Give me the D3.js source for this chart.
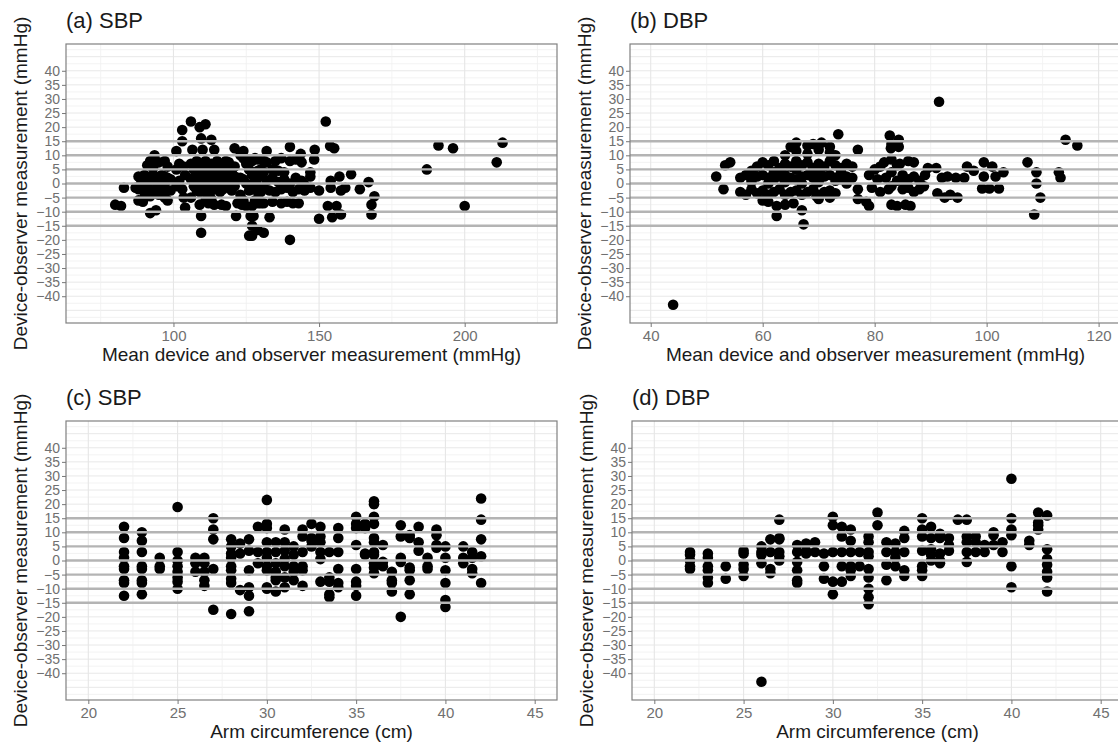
<!DOCTYPE html>
<html>
<head>
<meta charset="utf-8">
<script src="https://cdn.jsdelivr.net/npm/d3@7/dist/d3.min.js"></script>
<style>
  body { margin: 0; background: #fff; }
  svg { display: block; font-family: "Liberation Sans", Arial, sans-serif; }
</style>
</head>
<body>
<svg id="chart" width="1118" height="745"></svg>
<script>
// (a) SBP: [mean device/observer, difference]
const sbpMeanDiff = [
  [80,-7.5],[82,-8],[83,-1.5],[87,-1.5],[88,-6],[89.5,-6.5],[92,-10.5],[94,-9.5],[98,-6],
  [88,2.5],[89,2],[90,3],[91,2.5],[92,2],[93,3],[94,2.5],[95,2],[96,3],[97,2.5],[98,2],[99,1.5],
  [89,0.5],[91,0],[93,1],[95,0.5],[97,0],
  [88,-2],[90,-3],[91,-1.5],[92,-2.5],[93,-3],[94,-2],[95,-1],[96,-3],[97,-2],[99,-2.5],
  [90,-5],[92,-4.5],[95,-4],[97,-5],
  [91,6.5],[92,8],[93,5.5],[95,7.5],[97,8],[98,6],[93.5,10],
  [101,11.5],[103,19],[106,22],[109,20],[111,21],[103,15],[101,5],[102,7],[103.5,6],[101,-1],
  [103,-2],[104,-8.5],[103.5,-5],[102,1],[104,3],
  [106.5,12],[109.5,16],[113,15.5],[110,12],[114,12],
  [106,7],[107,5],[108,3],[109,1],[110,-1],[111,-3],[112,2],[113,4],[114,6],[115,8],[116,0],
  [117,-2],[118,3],[119,5],[120,1],[121,-1],[107,-1],[108,-2.5],[109,6],[110,3.5],[111,8],
  [112,-0.5],[113,1],[114,-2],[115,3],[116,5.5],[117,2],[118,-0.5],[119,7.5],[120,4],[121,2.5],
  [106,1.5],[108,8],[110,0],[112,5],[114,0.5],[116,-3],[118,8],[120,-2.5],[122,2],[111,5],
  [113,-2.5],[115,-1],[117,7],[119,0],[121,6],[107,2],[109,-3],[111,1],[113,7],[115,4.5],
  [117,-0.5],[119,2],
  [109.5,-11.5],[109.5,-17.5],[109,-7.5],[114,-7.5],[116.5,-7.5],[111,-6],[112,-7],[118,-8],
  [106,-5],[113,-5.5],
  [121,12.5],[124,11.5],[121.5,-11.5],[123.5,-7.5],[126.5,-11.5],[127,-15],[126,-18.5],
  [129,-16.5],[126,-2.5],[125,8],
  [123,10],[124,9],[125,7],[126,5],[127,3],[128,1],[129,-1],[130,-3],[123,-4],[124,-6],
  [125,-8],[127,-8],[128,-6],[130,-7],[129,2],[130,5],[131,8],[123,2],[125,0],[127,-1.5],
  [122,-7],[124,1.5],[126,8],[128,9],
  [127,8],[129,8.5],[132,7.5],[135,8],[137,9],[140,8],[142,8.5],[144,7.5],
  [129,4.5],[131,4],[134,5],[136,4.5],[138,4],
  [132,1],[134,2],[136,0.5],[138,1.5],[140,0],[142,2],[144,1],[145,-0.5],
  [127,-2],[129,-3],[131,-1.5],[133,-2.5],[135,-3],[137,-2],[139,-1.5],[141,-3],[143,-2],
  [145,-2.5],[147,-1.5],
  [140,13],[132,11.5],[148.5,12],[153.8,13.3],[155.2,12.5],[148.3,8.5],[143.7,10.5],
  [152.3,22],[147,2.5],[147,4],[150,-2.5],
  [154,1],[157,2.5],[161,3.3],[154,-1.5],[159,-1.5],[164,-2],[157.5,-2.5],[167,0.5],
  [169,-4.5],[168,-7.5],[168,-11],[153,-8],[156,-8],[150,-12.5],[154.5,-12],[157.5,-11],
  [129,-7],[131,-7],[134,-6.5],[137,-7],[139,-6.5],[141,-7],[143,-7],
  [133,-12],[127.5,-11.5],[127,-18.5],[131,-17.5],[140,-20],
  [187,5],[191,13.5],[196,12.5],[200,-8],[211,7.5],[213,14.5]
];

// (b) DBP: [mean device/observer, difference]
const dbpMeanDiff = [
  [44,-43],[51.7,2.5],[53,-2],[53.3,6.5],[54.2,7.5],
  [56,2],[57,3],[58,1.5],[59,2.5],[60,3],[61,2],[62,1.5],[63,2.5],[64,3],[65,2],[66,1.5],
  [67,2.5],[68,3],[69,2],[70,1.5],[71,2.5],[72,3],[73,2],[74,1.5],[75,2.5],[76,2],
  [58,0.5],[61,0],[64,0.5],[67,0],[70,0.5],[73,1],[75,0],
  [56,-3],[57,-4],[58,-2],[59,-3.5],[60,-2.5],[61,-4],[62,-3],[63,-2],[64,-4],[65,-3],
  [66,-2.5],[67,-4],[68,-3],[69,-2],[70,-4],[71,-3],[72,-2.5],[73,-3.5],
  [59,6],[60,7.5],[61,6.5],[62,8],[63,5.5],[64,7],[65,6],[66,8],[67,6.5],[68,7.5],[69,5.5],
  [70,7],[71,6],[72,8],[73,6.5],[74,5.5],[75,7],[76,6],
  [58,4.5],[62,4],[66,5],[70,4.5],[74,4],
  [60,-6],[62.5,-8],[62.5,-11.5],[65.5,-7],[67,-9.5],[67.3,-14.5],[61,-6.5],[64,-7.5],
  [70,-5.5],[72,-5],[69.6,-4.5],
  [65,13],[66,14.5],[68,13.5],[69,14],[70.5,14.5],[72,13],[73.5,17.5],
  [64,10],[66,11.5],[68,10.5],[70,12],[72,11],[73,10],
  [77,12],[77,-2],[77,-5.5],[78.5,-6.5],[79,-8],
  [79,3],[80,5],[80.5,1.5],[81,6],[82,2],[82.5,-2],[83,4],[84,1],[79.5,-1.5],[81,-3],
  [83,-1],[84,6.5],
  [82.7,17],[83,14],[84.3,15.5],[82.9,12.5],[84.3,13],
  [81.7,7.5],[83,8.5],[84.5,7],[86,8],[87,7.5],
  [85,3],[86,1.5],[87,2.5],[88,1],[89,3],[85.5,0.5],
  [85,-2],[86,-1.5],[87,-3],[88,-2],[88.8,-1],
  [83,-7.5],[84,-8],[85.5,-7.5],[86.4,-8],
  [89.5,5.5],[91,5.5],[92,2],[93,2.5],[94.5,2],[96,2],[91.2,-3.5],[92.5,-5],[93.5,-4],
  [94.8,-5],[91.5,29],
  [96.5,6],[97.7,4.5],[99.5,7.5],[101,6],[103,4],[99.5,2.5],[101.6,2.5],[99.2,-1.8],
  [100.5,-1.8],[102.2,-1.8],
  [107.3,7.5],[108.9,4],[108.9,0],[109.6,-5],[108.5,-11],[112.9,4],[113.2,2],
  [114.1,15.5],[116.2,13.5]
];

// (c) SBP and (d) DBP against arm circumference: one list of differences per arm size
const sbpArm = [22,23,24,25,26,26.5,27,28,28.5,29,29.5,30,30.5,31,31.5,32,32.5,33,33.5,34,35,35.5,36,36.5,37,37.5,38,38.5,39,39.5,40,41,41.5,42];
const sbpArmDiffs = [
  [12,8,3,1,-2,-3,-7,-8,-12.5],
  [10,7,3,-2,-3,-7,-8,-12],
  [1,-2,-3],
  [19,3,0,-2,-4,-6,-7.5,-10],
  [1,-1,-4],
  [1,-1,-4,-7,-9],
  [15,11,7.5,-3,-17.5],
  [7.5,5,2.5,1,-2,-3.5,-6.5,-8,-19],
  [6,2.5,-10.5],
  [7.5,3.5,-3.5,-9.5,-12.5,-18],
  [12,3,-1],
  [21.5,13,11.5,6.5,3,1,-2,-3.5,-9.5,-10],
  [6.5,3,-1,-4,-6,-7,-11],
  [11,6.5,3.5,0.5,-2,-6,-9.5],
  [5,2,-2,-4,-7],
  [11,8.5,3,-2,-3.5,-9],
  [13,8,7,5],
  [12,8.5,6.5,3,0.5,-7.5],
  [3,-6,-7.5,-12,-13],
  [11.5,8,3,-3,-8,-9.5],
  [15.5,13,11.5,5.5,-3,-7.5,-9,-12.5],
  [13,11.5,2.5,2],
  [21,20,15.5,13,8,6.5,3,2,-1,-2.5,-4.5],
  [5.5,-0.5,-2],
  [-4,-7,-8,-11],
  [12.5,8.5,1,-0.5,-20],
  [9,8,-2.5,-3.5,-7,-12],
  [12,6.5,3.5],
  [1,-2,-3],
  [11,9,5.5,4.5],
  [5,1,-3.5,-8,-14,-16.5],
  [5,1,-1],
  [3,1,-3,-4.5],
  [22,14.5,7.5,1.5,-8]
];

const dbpArm = [22,23,24,25,26,26.5,27,28,28.5,29,29.5,30,30.5,31,31.5,32,32.5,33,33.5,34,35,35.5,36,36.5,37,37.5,38,38.5,39,39.5,40,41,41.5,42];
const dbpArmDiffs = [
  [3,2,0,-2,-3],
  [2.5,1,-2,-3.5,-6,-8],
  [-2,-6.5],
  [3.5,2.5,-1.5,-3,-5.5],
  [5,3,2,-1,-43],
  [7.5,3,-3,-4.5],
  [14.5,8,7.5,3,1.5,0],
  [5.5,3,-0.5,-3.5,-7,-8],
  [6,3.5,2.5],
  [6.5,3],
  [2.5,-2,-6.5],
  [15.5,12.5,3,-7.5,-12],
  [12,8.5,3,-2,-7.5],
  [11,7,3,-2,-3.5,-5.5],
  [3,-2],
  [8.5,6.5,3,1.5,-3,-6,-10,-13,-15.5],
  [17,12.5],
  [6.5,3,-1.5,-7],
  [6,3,1,-2],
  [10.5,8,3,-3.5,-5.5],
  [15,11,8.5,3.5,-2,-3.5,-5.5],
  [12,8,4,2,0],
  [9.5,8,2.5,0,-1],
  [8,5.5,3.5],
  [14.5],
  [14.5,8.5,6.5,3,-0.5],
  [8.5,6.5,3],
  [5.5,3],
  [10,9,5.5],
  [6.5,3],
  [29,15,11,9,-2,-9.5],
  [7,5.5],
  [17,13.5,12.5,11],
  [16,4,0.5,-1.5,-4,-6,-11]
];

const yTicks = d3.range(-40, 41, 5);
const refLines = [-15, -10, -5, 0, 5, 10, 15];
const yLabel = "Device-observer measurement (mmHg)";

// flatten the arm lists into [x, y] pairs
function armPoints(arm, diffs) {
  return arm.flatMap((a, i) => diffs[i].map(d => [a, d]));
}

const W = 491, H = 279;

const panels = [
  { title: "(a) SBP", xLabel: "Mean device and observer measurement (mmHg)", pts: sbpMeanDiff,
    xDomain: [63.1, 231.7], xMajor: [100, 150, 200], xMinor: [75, 125, 175, 225], left: 66, top: 44 },
  { title: "(b) DBP", xLabel: "Mean device and observer measurement (mmHg)", pts: dbpMeanDiff,
    xDomain: [36.3, 124], xMajor: [40, 60, 80, 100, 120], xMinor: [50, 70, 90, 110], left: 630, top: 44 },
  { title: "(c) SBP", xLabel: "Arm circumference (cm)", pts: armPoints(sbpArm, sbpArmDiffs),
    xDomain: [18.75, 46.25], xMajor: [20, 25, 30, 35, 40, 45], xMinor: [22.5, 27.5, 32.5, 37.5, 42.5], left: 66, top: 421 },
  { title: "(d) DBP", xLabel: "Arm circumference (cm)", pts: armPoints(dbpArm, dbpArmDiffs),
    xDomain: [18.75, 46.25], xMajor: [20, 25, 30, 35, 40, 45], xMinor: [22.5, 27.5, 32.5, 37.5, 42.5], left: 632, top: 421 }
];

const svg = d3.select("#chart");
svg.append("rect").attr("width", 1118).attr("height", 745).attr("fill", "#fff");

function drawPanel(p) {
  const g = svg.append("g").attr("transform", `translate(${p.left},${p.top})`);
  const x = d3.scaleLinear().domain(p.xDomain).range([0, W]);
  const y = d3.scaleLinear().domain([-49.5, 49.5]).range([H, 0]);

  // grid: minor then major
  g.selectAll(".hmin").data(d3.range(-47.5, 48, 5)).enter().append("line")
    .attr("x1", 0).attr("x2", W).attr("y1", d => y(d)).attr("y2", d => y(d))
    .attr("stroke", "#f0f0f0").attr("stroke-width", 0.8);
  g.selectAll(".hmaj").data(d3.range(-45, 46, 5)).enter().append("line")
    .attr("x1", 0).attr("x2", W).attr("y1", d => y(d)).attr("y2", d => y(d))
    .attr("stroke", "#e8e8e8").attr("stroke-width", 1);
  g.selectAll(".vmin").data(p.xMinor).enter().append("line")
    .attr("y1", 0).attr("y2", H).attr("x1", d => x(d)).attr("x2", d => x(d))
    .attr("stroke", "#f0f0f0").attr("stroke-width", 0.8);
  g.selectAll(".vmaj").data(p.xMajor).enter().append("line")
    .attr("y1", 0).attr("y2", H).attr("x1", d => x(d)).attr("x2", d => x(d))
    .attr("stroke", "#e6e6e6").attr("stroke-width", 1.1);

  // points
  g.selectAll("circle").data(p.pts).enter().append("circle")
    .attr("cx", d => x(d[0])).attr("cy", d => y(d[1]))
    .attr("r", 5.3).attr("fill", "#000");

  // reference lines sit on top of the points
  g.selectAll(".ref").data(refLines).enter().append("line")
    .attr("x1", 0).attr("x2", W).attr("y1", d => y(d)).attr("y2", d => y(d))
    .attr("stroke", "#b4b4b4").attr("stroke-width", 2.4);

  g.append("rect").attr("width", W).attr("height", H)
    .attr("fill", "none").attr("stroke", "#808080").attr("stroke-width", 1.2);

  // axes
  const ax = g.append("g").attr("transform", `translate(0,${H})`)
    .call(d3.axisBottom(x).tickValues(p.xMajor).tickSize(4).tickPadding(3));
  const ay = g.append("g")
    .call(d3.axisLeft(y).tickValues(yTicks).tickSize(4).tickPadding(2));
  [ax, ay].forEach(a => {
    a.select(".domain").remove();
    a.selectAll("line").attr("stroke", "#777");
    a.selectAll("text").attr("fill", "#707070").style("font-size", "14px")
      .style("font-family", '"Liberation Sans", Arial, sans-serif');
  });
  ax.selectAll("text").style("font-size", "15px");

  g.append("text").attr("x", 0).attr("y", -16)
    .style("font-size", "22px").attr("fill", "#1a1a1a").text(p.title);

  g.append("text").attr("x", W / 2).attr("y", H + 38).attr("text-anchor", "middle")
    .style("font-size", "19px").attr("fill", "#1a1a1a").text(p.xLabel);

  g.append("text").attr("transform", `translate(-39,${H / 2}) rotate(-90)`)
    .attr("text-anchor", "middle").style("font-size", "19px").attr("fill", "#1a1a1a")
    .text(yLabel);
}

panels.forEach(drawPanel);
</script>
</body>
</html>
